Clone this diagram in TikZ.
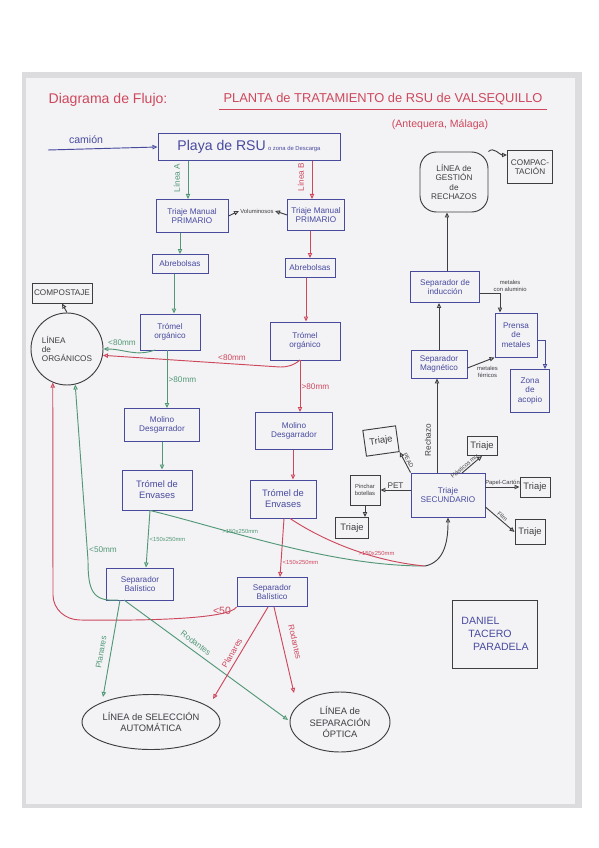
\documentclass[tikz,border=0pt]{standalone}
\usepackage{fontspec}
\setmainfont{Liberation Sans}
\usepackage{tikz}
\usetikzlibrary{shapes.geometric, arrows.meta, positioning, calc}
\definecolor{inkblue}{RGB}{72, 74, 158}
\definecolor{inkred}{RGB}{206, 72, 92}
\definecolor{inkgreen}{RGB}{82, 152, 118}
\definecolor{inkblack}{RGB}{62, 62, 66}
\definecolor{paper}{RGB}{243, 243, 246}
\definecolor{photo}{RGB}{220, 220, 222}

\begin{document}
\begin{tikzpicture}[x=0.03cm, y=-0.03cm,
    box/.style={rectangle, draw=inkblue, text=inkblue, thick, align=center,
                font=\scriptsize, inner sep=1pt},
    kbox/.style={rectangle, draw=inkblack, text=inkblack, thick, align=center,
                font=\footnotesize, inner sep=1pt},
    blob/.style={ellipse, draw=inkblack, text=inkblack, thick, align=center,
                font=\footnotesize, inner sep=0pt},
    garr/.style={-{Triangle[open, length=1.5mm, width=1.3mm]}, thick, inkgreen},
    rarr/.style={-{Triangle[open, length=1.5mm, width=1.3mm]}, thick, inkred},
    karr/.style={-{Triangle[open, length=1.5mm, width=1.3mm]}, thick, inkblack},
    barr/.style={-{Triangle[open, length=1.5mm, width=1.3mm]}, thick, inkblue},
    glab/.style={text=inkgreen, font=\scriptsize, inner sep=1pt},
    rlab/.style={text=inkred, font=\scriptsize, inner sep=1pt},
    klab/.style={text=inkblack, font=\tiny, inner sep=1pt, align=center},
]
\useasboundingbox (0,0) rectangle (599,848);
\fill[white] (0,0) rectangle (599,848);
\fill[photo] (22,72) rectangle (582,808);
\fill[paper] (26,78) rectangle (575,804);

% Title
\node[text=inkred, font=\large] (titulo) at (108,100) {Diagrama de Flujo:};
\node[text=inkred, font=\fontsize{11}{13}\selectfont] (planta) at (383,99)
    {PLANTA de TRATAMIENTO de RSU de VALSEQUILLO};
\draw[inkred, thick] (planta.south west) -- (planta.south east);
\node[text=inkred, font=\small] (lugar) at (440,125) {(Antequera, Málaga)};

% Entrada
\node[box, minimum width=5.46cm, minimum height=0.81cm] (playa) at (249,147)
    {{\large Playa de RSU} {\tiny o zona de Descarga}};
\coordinate (camion) at (48,150);
\node[text=inkblue, font=\small] (camiontxt) at (86,140) {camión};

% Linea A
\node[box, minimum width=2.16cm, minimum height=0.99cm] (triA) at (192,216) {Triaje Manual\\PRIMARIO};
\node[box, minimum width=1.68cm, minimum height=0.57cm] (abrA) at (180,264) {Abrebolsas};
\node[box, minimum width=1.8cm, minimum height=1.08cm] (tromA) at (170,332) {Trómel\\orgánico};
\node[box, minimum width=2.25cm, minimum height=0.99cm] (molA) at (162,425) {Molino\\Desgarrador};
\node[box, minimum width=2.1cm, minimum height=1.2cm, font=\footnotesize] (envA) at (157,490) {Trómel de\\Envases};
\node[box, minimum width=2.01cm, minimum height=0.96cm] (balA) at (140,584) {Separador\\Balístico};

% Linea B
\node[box, minimum width=1.71cm, minimum height=0.93cm] (triB) at (316,215) {Triaje Manual\\PRIMARIO};
\node[box, minimum width=1.5cm, minimum height=0.57cm] (abrB) at (310,268) {Abrebolsas};
\node[box, minimum width=2.1cm, minimum height=1.14cm] (tromB) at (305,341) {Trómel\\orgánico};
\node[box, minimum width=2.31cm, minimum height=1.11cm] (molB) at (294,431) {Molino\\Desgarrador};
\node[box, minimum width=1.98cm, minimum height=1.14cm, font=\footnotesize] (envB) at (283,499) {Trómel de\\Envases};
\node[box, minimum width=2.1cm, minimum height=0.87cm] (balB) at (272,592) {Separador\\Balístico};

\node[klab] (vol) at (257,211) {Voluminosos};
\node[glab, rotate=90] (lineaA) at (177,178) {Línea A};
\node[rlab, rotate=90] (lineaB) at (301,177) {Línea B};

% Organicos
\node[kbox, minimum width=1.8cm, minimum height=0.6cm, font=\scriptsize] (compost) at (62,293) {COMPOSTAJE};
\node[circle, draw=inkblack, text=inkblack, thick, align=left, font=\scriptsize,
      minimum size=2.16cm, inner sep=0pt] (organ) at (67,349) {LÍNEA\\de\\ORGÁNICOS};

% Lineas finales
\node[blob, minimum width=4.14cm, minimum height=1.65cm] (selauto) at (151,722)
    {LÍNEA de SELECCIÓN\\AUTOMÁTICA};
\node[blob, minimum width=3cm, minimum height=1.8cm] (sepopt) at (340,722)
    {LÍNEA de\\SEPARACIÓN\\ÓPTICA};

% Rechazos
\node[rectangle, rounded corners=14pt, draw=inkblack, text=inkblack, thick, align=center,
      font=\scriptsize, minimum width=2.04cm, minimum height=1.8cm] (gestion) at (454,182)
    {LÍNEA de\\GESTIÓN\\de\\RECHAZOS};
\node[kbox, minimum width=1.35cm, minimum height=0.99cm, font=\scriptsize] (compac) at (530,167) {COMPAC-\\TACIÓN};
\node[box, minimum width=2.07cm, minimum height=0.93cm] (sepind) at (445,287) {Separador de\\inducción};
\node[box, minimum width=1.26cm, minimum height=1.32cm] (prensa) at (516,335) {Prensa\\de\\metales};
\node[box, minimum width=1.17cm, minimum height=1.29cm] (acopio) at (530,391) {Zona\\de\\acopio};
\node[box, minimum width=1.68cm, minimum height=0.84cm] (sepmag) at (439,364) {Separador\\Magnético};
\node[box, minimum width=2.22cm, minimum height=1.32cm] (trisec) at (448,495) {Triaje\\SECUNDARIO};
\node[klab, rotate=90, font=\scriptsize] (rechazo) at (428,440) {Rechazo};

% Triajes
\node[kbox, minimum width=0.99cm, minimum height=0.78cm, rotate=8] (tpead) at (381,441) {Triaje};
\node[kbox, minimum width=0.9cm, minimum height=0.57cm] (tmix) at (482,446) {Triaje};
\node[kbox, minimum width=0.9cm, minimum height=0.6cm] (tpapel) at (535,487) {Triaje};
\node[kbox, minimum width=0.9cm, minimum height=0.75cm] (tfilm) at (530,532) {Triaje};
\node[kbox, minimum width=0.9cm, minimum height=0.9cm, font=\tiny] (pinchar) at (365,490) {Pinchar\\botellas};
\node[kbox, minimum width=0.99cm, minimum height=0.63cm] (tpet) at (352,528) {Triaje};

% Firma
\node[rectangle, draw=inkblack, thick, text=inkblue, align=left, font=\small,
      minimum width=2.55cm, minimum height=2.04cm] (firma) at (495,634)
    {DANIEL\\\hspace{6pt}TACERO\\\hspace{10pt}PARADELA};

% Labels
\node[glab] (g80) at (122,343) {<80mm};
\node[rlab] (r80) at (232,358) {<80mm};
\node[glab] (g50) at (103,550) {<50mm};
\node[rlab, font=\small] (r50) at (222,611) {<50};
\node[glab, rotate=80] (gplan) at (101,652) {Planares};
\node[glab, rotate=-37] (grod) at (196,643) {Rodantes};
\node[rlab, rotate=60] (rplan) at (232,653) {Planares};
\node[rlab, rotate=-77] (rrod) at (295,642) {Rodantes};

% Arrows
\draw[barr] (camion) -- (playa.west);
\draw[garr] (playa.south -| 188,0) -- (188,199);
\draw[rarr] (playa.south -| 312,0) -- (312,199);
\draw[karr] (triA.east) -- (vol.west);
\draw[karr] (triB.west) -- (vol.east);
\draw[garr] (triA.south -| abrA) -- (abrA.north);
\draw[rarr] (triB.south -| abrB) -- (abrB.north);
\draw[garr] (abrA.south -| 174,0) -- (tromA.north -| 174,0);
\draw[rarr] (abrB.south -| 306,0) -- (tromB.north -| 306,0);
\draw[karr] (organ.north) -- (compost.south);
\draw[garr] (155,350) to[out=200,in=0] (organ.east);
\draw[rarr] (300,360) to[out=220,in=0] (280,367) -- (organ.-10);
\draw[garr] (tromA.south -| 167,0) -- node[glab, right] {>80mm} (molA.north -| 167,0);
\draw[rarr] (tromB.south -| 300,0) -- node[rlab, right] {>80mm} (molB.north -| 300,0);
\draw[garr] (molA.south -| 162,0) -- (envA.north -| 162,0);
\draw[rarr] (molB.south -| 293,0) -- (envB.north -| 293,0);
\draw[garr] (envA.south -| 150,0) -- node[glab, right, font=\tiny] {<150x250mm} (balA.north -| 146,0);
\draw[rarr] (envB.south -| 284,0) -- node[rlab, right, font=\tiny, pos=0.75] {<150x250mm} (balB.north -| 280,0);
\coordinate (union) at (425,566);
\draw[inkgreen, thick] (envA.south -| 150,0) .. controls (230,530) and (330,566) .. node[glab, font=\tiny, above, pos=0.35] {>150x250mm} (union);
\draw[inkred, thick] (envB.south -| 290,0) .. controls (330,545) and (380,562) .. node[rlab, font=\tiny, above, pos=0.65] {>150x250mm} (union);
\draw[karr] (union) .. controls (445,562) and (448,540) .. (trisec.south);
\draw[garr] (118,600) .. controls (92,602) and (88,590) .. (88,560) -- (organ.-77);
\draw[rarr] (balB.south west) .. controls (230,618) and (160,621) .. (80,620)
    to[out=180,in=-90] (53,595) -- (organ.-113);
\draw[garr] (120,600) -- (103,697);
\draw[garr] (124,600) -- (288,720);
\draw[rarr] (268,607) -- (213,699);
\draw[rarr] (274,607) -- (294,693);

% Rechazos arrows
\draw[karr] (sepind.north -| 447,0) -- (gestion.south -| 447,0);
\draw[karr] (gestion.north east) to[out=45,in=180] (compac.west |- 0,155);
\draw[karr] (sepind.east |- 0,293) -| node[klab, above right, pos=0.3] {metales\\con aluminio} (prensa.north -| 500,0);
\draw[barr] (prensa.east |- 0,340) -| (acopio.north -| 545,0);
\draw[karr] (sepmag.north) -- (sepind.south -| sepmag);
\draw[karr] (sepmag.east |- 0,368) -- node[klab, below right, pos=0.3] {metales\\férricos} (prensa.south west);
\draw[karr] (trisec.north -| 437,0) -- (sepmag.south -| 437,0);
\draw[karr] (trisec.north west) -- node[klab, sloped, above] {PEAD} (tpead.south east);
\draw[karr] (462,473) -- node[klab, sloped, above, pos=0.25] {Plásticos mix} (tmix.south);
\draw[karr] (trisec.east |- tpapel) -- node[klab, above] {Papel-Cartón} (tpapel.west);
\draw[karr] (trisec.east |- 0,507) -- node[klab, above, sloped] {Film} (tfilm.west);
\draw[karr] (trisec.west |- pinchar) -- node[klab, above, font=\scriptsize] {PET} (pinchar.east);
\draw[karr] (pinchar.south) -- (tpet.north -| pinchar);

\end{tikzpicture}
\end{document}
